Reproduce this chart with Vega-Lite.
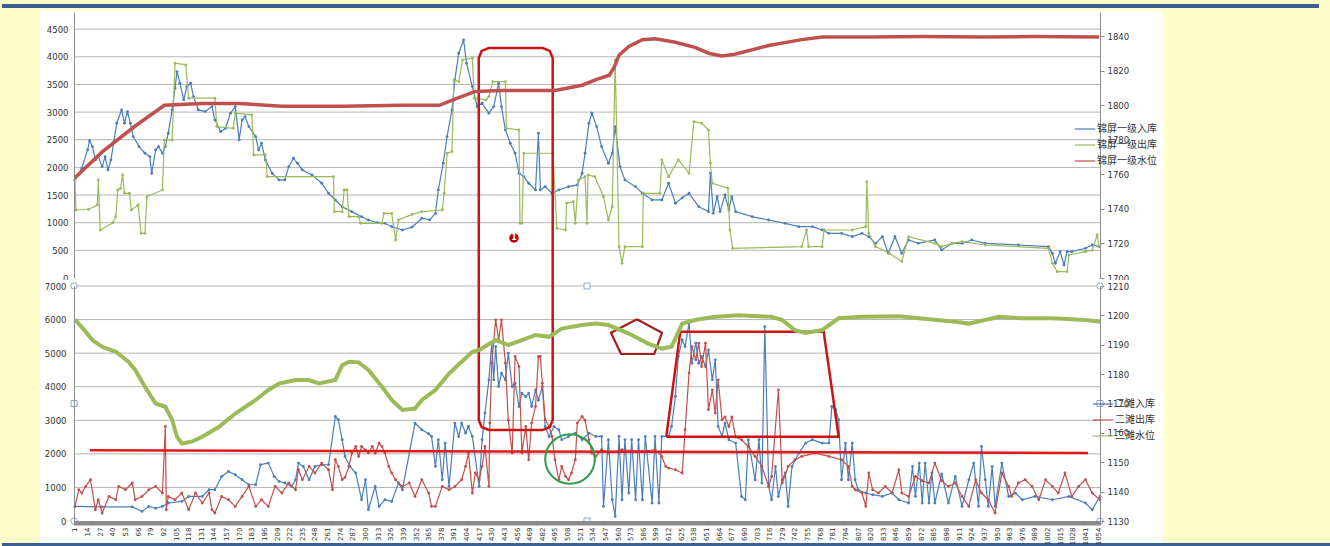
{
"$schema": "https://vega.github.io/schema/vega-lite/v6.json",
"background": "#FFFFCC",
"padding": {"left": 0, "top": 4, "right": 0, "bottom": 0},
"autosize": {"type": "pad"},
"bounds": "flush",
"spacing": 8,
"config": {
  "view": {"stroke": null},
  "axis": {"labelFont": "DejaVu Sans", "labelFontSize": 8.5, "labelColor": "#333333", "domainColor": "#8C8C8C", "tickColor": "#8C8C8C", "zindex": 1, "grid": false, "title": null}
},
"resolve": {"scale": {"x": "independent", "y": "independent", "color": "independent"}, "legend": {"color": "independent"}},
"datasets": {
  "nav_t": [{"i": -74.1, "i2": 1281.4, "v": 4918}],
  "bg_t": [{"i": -35, "i2": 1120.8, "v": 4830, "v2": -36}],
  "grid_t": [{"v": 500, "i": 0, "i2": 1056}, {"v": 1000, "i": 0, "i2": 1056}, {"v": 1500, "i": 0, "i2": 1056}, {"v": 2000, "i": 0, "i2": 1056}, {"v": 2500, "i": 0, "i2": 1056}, {"v": 3000, "i": 0, "i2": 1056}, {"v": 3500, "i": 0, "i2": 1056}, {"v": 4000, "i": 0, "i2": 1056}, {"v": 4500, "i": 0, "i2": 1056}],
  "rr_t": [{"o":1,"i":416.6,"v":-36},{"o":2,"i":416.6,"v":3978},{"o":3,"i":419.6,"v":4106},{"o":4,"i":426.9,"v":4159},{"o":5,"i":482.4,"v":4159},{"o":6,"i":489.7,"v":4106},{"o":7,"i":492.7,"v":3978},{"o":8,"i":492.7,"v":-36}],
  "badge": [{"i": 452.8, "v": 723}],
  "top_lvl": [{"i":1,"v":1758},{"i":29,"v":1773},{"i":63,"v":1788},{"i":93,"v":1800},{"i":132,"v":1801},{"i":170,"v":1801},{"i":214,"v":1799.5},{"i":276,"v":1799.5},{"i":338,"v":1800},{"i":376,"v":1800},{"i":394,"v":1804},{"i":413,"v":1808},{"i":440,"v":1808.5},{"i":495,"v":1808.5},{"i":523,"v":1811.6},{"i":538,"v":1815},{"i":551,"v":1817.4},{"i":556,"v":1822},{"i":561,"v":1829},{"i":571,"v":1834},{"i":585,"v":1838},{"i":598,"v":1838.5},{"i":619,"v":1836.5},{"i":639,"v":1833.5},{"i":654,"v":1830},{"i":667,"v":1828.5},{"i":680,"v":1829.5},{"i":715,"v":1834.6},{"i":749,"v":1838},{"i":770,"v":1839.5},{"i":821,"v":1839.5},{"i":873,"v":1839.8},{"i":935,"v":1839.5},{"i":986,"v":1839.8},{"i":1055,"v":1839.5}],
  "top_in": [{"i":1,"v":1773},{"i":8,"v":1985},{"i":14,"v":2316},{"i":16,"v":2484},{"i":19,"v":2376},{"i":22,"v":2135},{"i":25,"v":2195},{"i":29,"v":2014},{"i":32,"v":2195},{"i":35,"v":1954},{"i":38,"v":2135},{"i":41,"v":2466},{"i":44,"v":2799},{"i":49,"v":3040},{"i":52,"v":2799},{"i":55,"v":3010},{"i":58,"v":2799},{"i":61,"v":2557},{"i":67,"v":2376},{"i":73,"v":2256},{"i":78,"v":2195},{"i":80,"v":1894},{"i":84,"v":2316},{"i":87,"v":2376},{"i":91,"v":2256},{"i":94,"v":2376},{"i":97,"v":2618},{"i":101,"v":3040},{"i":104,"v":3432},{"i":106,"v":3733},{"i":109,"v":3522},{"i":113,"v":3221},{"i":116,"v":3461},{"i":120,"v":3522},{"i":123,"v":3280},{"i":128,"v":3040},{"i":135,"v":3010},{"i":142,"v":3100},{"i":145,"v":2859},{"i":151,"v":2647},{"i":156,"v":2708},{"i":161,"v":2980},{"i":166,"v":3100},{"i":170,"v":2497},{"i":173,"v":2859},{"i":176,"v":2918},{"i":180,"v":2738},{"i":187,"v":2557},{"i":190,"v":2316},{"i":193,"v":2437},{"i":197,"v":2135},{"i":204,"v":1894},{"i":211,"v":1773},{"i":217,"v":1773},{"i":221,"v":2014},{"i":226,"v":2166},{"i":230,"v":2075},{"i":235,"v":1954},{"i":245,"v":1864},{"i":255,"v":1713},{"i":262,"v":1532},{"i":269,"v":1411},{"i":276,"v":1290},{"i":286,"v":1200},{"i":296,"v":1109},{"i":303,"v":1049},{"i":312,"v":1000},{"i":320,"v":989},{"i":327,"v":928},{"i":338,"v":868},{"i":348,"v":920},{"i":358,"v":1080},{"i":366,"v":1050},{"i":372,"v":1170},{"i":375,"v":1592},{"i":380,"v":2075},{"i":384,"v":2557},{"i":389,"v":3040},{"i":392,"v":3582},{"i":396,"v":4065},{"i":401,"v":4306},{"i":404,"v":3884},{"i":410,"v":3461},{"i":415,"v":3100},{"i":420,"v":3160},{"i":427,"v":2980},{"i":432,"v":3100},{"i":437,"v":3522},{"i":440,"v":3100},{"i":444,"v":2678},{"i":449,"v":2437},{"i":454,"v":2256},{"i":458,"v":1894},{"i":463,"v":1833},{"i":468,"v":1713},{"i":475,"v":1592},{"i":478,"v":2618},{"i":480,"v":1592},{"i":485,"v":1652},{"i":492,"v":1532},{"i":499,"v":1592},{"i":509,"v":1652},{"i":518,"v":1683},{"i":523,"v":1894},{"i":526,"v":2256},{"i":530,"v":2799},{"i":533,"v":2980},{"i":538,"v":2738},{"i":543,"v":2376},{"i":550,"v":2075},{"i":554,"v":2256},{"i":557,"v":2738},{"i":562,"v":2014},{"i":567,"v":1773},{"i":578,"v":1652},{"i":585,"v":1532},{"i":595,"v":1411},{"i":605,"v":1411},{"i":612,"v":1713},{"i":619,"v":1351},{"i":626,"v":1450},{"i":633,"v":1532},{"i":643,"v":1290},{"i":653,"v":1200},{"i":655,"v":1894},{"i":658,"v":1170},{"i":662,"v":1471},{"i":665,"v":1200},{"i":670,"v":1501},{"i":674,"v":1230},{"i":677,"v":1471},{"i":681,"v":1200},{"i":698,"v":1109},{"i":715,"v":1049},{"i":732,"v":989},{"i":746,"v":928},{"i":760,"v":928},{"i":770,"v":868},{"i":777,"v":808},{"i":790,"v":808},{"i":801,"v":747},{"i":811,"v":808},{"i":818,"v":747},{"i":825,"v":627},{"i":832,"v":747},{"i":838,"v":446},{"i":845,"v":747},{"i":852,"v":446},{"i":859,"v":687},{"i":869,"v":627},{"i":886,"v":687},{"i":893,"v":507},{"i":904,"v":627},{"i":914,"v":627},{"i":924,"v":687},{"i":938,"v":627},{"i":972,"v":597},{"i":1003,"v":567},{"i":1007,"v":446},{"i":1010,"v":265},{"i":1015,"v":476},{"i":1019,"v":235},{"i":1022,"v":476},{"i":1027,"v":476},{"i":1041,"v":537},{"i":1048,"v":597},{"i":1055,"v":567}],
  "top_out": [{"i":1,"v":1773},{"i":2,"v":1230},{"i":15,"v":1243},{"i":24,"v":1320},{"i":25,"v":1773},{"i":27,"v":868},{"i":40,"v":1000},{"i":43,"v":1109},{"i":45,"v":1592},{"i":48,"v":1620},{"i":50,"v":1864},{"i":52,"v":1532},{"i":57,"v":1532},{"i":59,"v":1230},{"i":66,"v":1320},{"i":69,"v":808},{"i":73,"v":808},{"i":75,"v":1471},{"i":91,"v":1592},{"i":93,"v":2497},{"i":101,"v":2497},{"i":104,"v":3884},{"i":115,"v":3854},{"i":118,"v":3251},{"i":145,"v":3251},{"i":147,"v":2738},{"i":164,"v":2708},{"i":166,"v":2980},{"i":183,"v":2949},{"i":185,"v":2225},{"i":197,"v":2225},{"i":199,"v":1833},{"i":267,"v":1833},{"i":268,"v":1200},{"i":276,"v":1200},{"i":278,"v":1592},{"i":281,"v":1592},{"i":283,"v":1109},{"i":293,"v":1109},{"i":295,"v":989},{"i":317,"v":989},{"i":319,"v":1170},{"i":327,"v":1170},{"i":331,"v":687},{"i":334,"v":1049},{"i":348,"v":1150},{"i":358,"v":1200},{"i":379,"v":1230},{"i":381,"v":1532},{"i":384,"v":2256},{"i":389,"v":2286},{"i":391,"v":3582},{"i":396,"v":3552},{"i":400,"v":3944},{"i":410,"v":3974},{"i":412,"v":3251},{"i":424,"v":3221},{"i":427,"v":3280},{"i":431,"v":3552},{"i":444,"v":3552},{"i":445,"v":2708},{"i":458,"v":2678},{"i":459,"v":989},{"i":461,"v":989},{"i":463,"v":2256},{"i":493,"v":2256},{"i":497,"v":898},{"i":506,"v":868},{"i":507,"v":1351},{"i":514,"v":1381},{"i":516,"v":989},{"i":519,"v":1773},{"i":526,"v":1833},{"i":528,"v":989},{"i":529,"v":1864},{"i":536,"v":1833},{"i":545,"v":1471},{"i":550,"v":1049},{"i":554,"v":1290},{"i":557,"v":3944},{"i":561,"v":567},{"i":564,"v":265},{"i":567,"v":567},{"i":585,"v":567},{"i":586,"v":1532},{"i":603,"v":1532},{"i":605,"v":2135},{"i":612,"v":1833},{"i":622,"v":2135},{"i":633,"v":1894},{"i":638,"v":2829},{"i":646,"v":2799},{"i":653,"v":2678},{"i":655,"v":2075},{"i":657,"v":1713},{"i":673,"v":1622},{"i":675,"v":868},{"i":678,"v":537},{"i":749,"v":567},{"i":754,"v":868},{"i":756,"v":567},{"i":770,"v":567},{"i":772,"v":868},{"i":801,"v":868},{"i":815,"v":928},{"i":816,"v":1743},{"i":818,"v":808},{"i":825,"v":567},{"i":839,"v":446},{"i":852,"v":300},{"i":859,"v":747},{"i":886,"v":627},{"i":893,"v":567},{"i":904,"v":627},{"i":914,"v":657},{"i":938,"v":597},{"i":1003,"v":537},{"i":1007,"v":265},{"i":1012,"v":114},{"i":1022,"v":114},{"i":1024,"v":416},{"i":1041,"v":476},{"i":1048,"v":500},{"i":1053,"v":778},{"i":1055,"v":567}],
  "nav_b": [{"i": -74.1, "i2": 1294.8, "v": -700}],
  "bg_b": [{"i": -35, "i2": 1120.8, "v": 7180, "v2": -745}],
  "grid_b": [{"v": 1000, "i": 0, "i2": 1056}, {"v": 2000, "i": 0, "i2": 1056}, {"v": 3000, "i": 0, "i2": 1056}, {"v": 4000, "i": 0, "i2": 1056}, {"v": 5000, "i": 0, "i2": 1056}, {"v": 6000, "i": 0, "i2": 1056}, {"v": 7000, "i": 0, "i2": 1056}],
  "rr_b": [{"o":1,"i":416.6,"v":7180},{"o":2,"i":416.6,"v":3009},{"o":3,"i":419.6,"v":2798},{"o":4,"i":426.9,"v":2711},{"o":5,"i":482.4,"v":2711},{"o":6,"i":489.7,"v":2798},{"o":7,"i":492.7,"v":3009},{"o":8,"i":492.7,"v":7180}],
  "pent": [{"o":1,"i":579.4,"v":6008},{"o":2,"i":605.2,"v":5609},{"o":3,"i":597.2,"v":4974},{"o":4,"i":563,"v":4974},{"o":5,"i":552.7,"v":5609},{"o":6,"i":579.4,"v":6008}],
  "trap": [{"o":1,"i":609.6,"v":2511},{"o":2,"i":624,"v":5639},{"o":3,"i":771.6,"v":5639},{"o":4,"i":787,"v":2511},{"o":5,"i":609.6,"v":2511}],
  "hline": [{"i":16.5,"v":2106},{"i":1043.6,"v":2026}],
  "circ": [{"i":510.5,"v":1847}],
  "hc": [{"i":0,"v":0},{"i":0,"v":7000},{"i":1056,"v":0},{"i":1056,"v":7000}],
  "hs": [{"i":0,"v":3500},{"i":1056,"v":3500},{"i":528,"v":0},{"i":528,"v":7000}],
  "bot_lvl": [{"i":1,"v":1198.6},{"i":8,"v":1196},{"i":19,"v":1191.6},{"i":29,"v":1189.3},{"i":43,"v":1187.6},{"i":56,"v":1184.2},{"i":63,"v":1181.4},{"i":73,"v":1175.7},{"i":84,"v":1170},{"i":94,"v":1168.9},{"i":101,"v":1164.4},{"i":106,"v":1158.7},{"i":111,"v":1156.4},{"i":121,"v":1157},{"i":132,"v":1158.7},{"i":149,"v":1162},{"i":166,"v":1166.6},{"i":187,"v":1171.2},{"i":200,"v":1174.6},{"i":211,"v":1176.8},{"i":228,"v":1178},{"i":242,"v":1178},{"i":252,"v":1176.8},{"i":269,"v":1178},{"i":276,"v":1183},{"i":283,"v":1184.2},{"i":293,"v":1184},{"i":303,"v":1181.4},{"i":317,"v":1175.7},{"i":327,"v":1171.2},{"i":338,"v":1167.8},{"i":351,"v":1168.3},{"i":358,"v":1171.2},{"i":372,"v":1174.6},{"i":386,"v":1180.2},{"i":399,"v":1184.2},{"i":410,"v":1187.6},{"i":417,"v":1188.2},{"i":434,"v":1191.6},{"i":447,"v":1189.9},{"i":461,"v":1191.6},{"i":475,"v":1193.3},{"i":489,"v":1192.7},{"i":502,"v":1195.5},{"i":523,"v":1196.7},{"i":537,"v":1197.2},{"i":550,"v":1196.7},{"i":571,"v":1193.8},{"i":591,"v":1190.4},{"i":605,"v":1188.7},{"i":615,"v":1189.3},{"i":626,"v":1197.2},{"i":639,"v":1198.4},{"i":660,"v":1199.5},{"i":684,"v":1200},{"i":718,"v":1199.5},{"i":729,"v":1198.4},{"i":742,"v":1195},{"i":753,"v":1194},{"i":770,"v":1195},{"i":787,"v":1199},{"i":811,"v":1199.5},{"i":849,"v":1199.7},{"i":883,"v":1198.6},{"i":907,"v":1197.8},{"i":921,"v":1197.2},{"i":952,"v":1199.5},{"i":976,"v":1199},{"i":1007,"v":1199},{"i":1041,"v":1198.4},{"i":1056,"v":1197.8}],
  "bot_in": [{"i":1,"v":435},{"i":29,"v":420},{"i":60,"v":420},{"i":70,"v":286},{"i":77,"v":435},{"i":84,"v":380},{"i":91,"v":435},{"i":97,"v":536},{"i":111,"v":583},{"i":118,"v":732},{"i":132,"v":732},{"i":139,"v":932},{"i":145,"v":932},{"i":152,"v":1327},{"i":159,"v":1476},{"i":166,"v":1378},{"i":173,"v":1229},{"i":180,"v":1080},{"i":187,"v":1080},{"i":192,"v":1676},{"i":200,"v":1726},{"i":206,"v":1327},{"i":211,"v":1178},{"i":217,"v":1131},{"i":224,"v":1030},{"i":228,"v":1229},{"i":231,"v":1726},{"i":236,"v":1625},{"i":242,"v":1229},{"i":248,"v":1626},{"i":255,"v":1676},{"i":262,"v":1676},{"i":269,"v":3113},{"i":272,"v":3015},{"i":276,"v":2420},{"i":279,"v":1923},{"i":284,"v":1625},{"i":290,"v":1429},{"i":296,"v":634},{"i":300,"v":1229},{"i":303,"v":336},{"i":310,"v":1030},{"i":314,"v":435},{"i":320,"v":634},{"i":327,"v":583},{"i":334,"v":1131},{"i":338,"v":932},{"i":351,"v":2917},{"i":358,"v":2717},{"i":365,"v":2600},{"i":368,"v":2518},{"i":372,"v":1625},{"i":375,"v":2420},{"i":379,"v":1229},{"i":382,"v":2321},{"i":386,"v":1030},{"i":392,"v":2917},{"i":396,"v":2518},{"i":399,"v":2917},{"i":403,"v":2619},{"i":406,"v":2815},{"i":410,"v":2518},{"i":417,"v":1030},{"i":420,"v":2420},{"i":423,"v":3214},{"i":427,"v":4205},{"i":430,"v":5298},{"i":432,"v":4205},{"i":434,"v":5196},{"i":437,"v":4006},{"i":440,"v":4405},{"i":444,"v":4205},{"i":447,"v":5000},{"i":451,"v":4006},{"i":454,"v":4105},{"i":458,"v":3411},{"i":461,"v":3810},{"i":465,"v":3700},{"i":468,"v":3810},{"i":471,"v":3411},{"i":475,"v":3908},{"i":478,"v":3600},{"i":482,"v":4006},{"i":485,"v":2815},{"i":489,"v":2518},{"i":494,"v":2815},{"i":499,"v":2717},{"i":502,"v":2420},{"i":509,"v":2518},{"i":516,"v":2619},{"i":523,"v":2420},{"i":530,"v":2619},{"i":537,"v":2518},{"i":543,"v":2518},{"i":545,"v":435},{"i":550,"v":2420},{"i":554,"v":634},{"i":557,"v":137},{"i":561,"v":2518},{"i":564,"v":634},{"i":567,"v":2420},{"i":571,"v":833},{"i":574,"v":2420},{"i":578,"v":634},{"i":581,"v":2420},{"i":585,"v":634},{"i":588,"v":2518},{"i":595,"v":536},{"i":598,"v":2518},{"i":602,"v":536},{"i":605,"v":2518},{"i":612,"v":2518},{"i":615,"v":2815},{"i":619,"v":3708},{"i":622,"v":4899},{"i":626,"v":5396},{"i":629,"v":5196},{"i":633,"v":5893},{"i":636,"v":4702},{"i":640,"v":5298},{"i":643,"v":4702},{"i":646,"v":4899},{"i":650,"v":4601},{"i":653,"v":5098},{"i":657,"v":4205},{"i":660,"v":4800},{"i":663,"v":2815},{"i":667,"v":2518},{"i":670,"v":2917},{"i":674,"v":2420},{"i":681,"v":2321},{"i":687,"v":732},{"i":691,"v":634},{"i":694,"v":2420},{"i":701,"v":1229},{"i":705,"v":2420},{"i":708,"v":1131},{"i":711,"v":5792},{"i":715,"v":1030},{"i":718,"v":634},{"i":722,"v":1625},{"i":725,"v":732},{"i":729,"v":1229},{"i":732,"v":1429},{"i":735,"v":435},{"i":739,"v":1625},{"i":746,"v":2023},{"i":753,"v":2321},{"i":760,"v":2420},{"i":770,"v":2321},{"i":777,"v":2321},{"i":780,"v":3411},{"i":784,"v":3313},{"i":787,"v":3015},{"i":790,"v":1229},{"i":794,"v":2321},{"i":797,"v":1229},{"i":801,"v":2321},{"i":804,"v":1229},{"i":807,"v":932},{"i":815,"v":833},{"i":822,"v":783},{"i":832,"v":732},{"i":842,"v":833},{"i":849,"v":634},{"i":859,"v":536},{"i":863,"v":1625},{"i":866,"v":732},{"i":870,"v":1726},{"i":873,"v":536},{"i":876,"v":1726},{"i":880,"v":536},{"i":883,"v":1429},{"i":886,"v":536},{"i":893,"v":1400},{"i":900,"v":536},{"i":907,"v":1327},{"i":914,"v":435},{"i":921,"v":1229},{"i":926,"v":1726},{"i":931,"v":435},{"i":934,"v":2220},{"i":938,"v":1230},{"i":941,"v":435},{"i":945,"v":1627},{"i":948,"v":435},{"i":955,"v":1726},{"i":962,"v":730},{"i":969,"v":830},{"i":976,"v":634},{"i":989,"v":732},{"i":1007,"v":634},{"i":1024,"v":730},{"i":1041,"v":536},{"i":1048,"v":336},{"i":1056,"v":732}],
  "bot_out": [{"i":1,"v":435},{"i":5,"v":932},{"i":8,"v":833},{"i":12,"v":1030},{"i":17,"v":1229},{"i":22,"v":336},{"i":25,"v":634},{"i":29,"v":238},{"i":36,"v":733},{"i":43,"v":634},{"i":46,"v":1030},{"i":53,"v":932},{"i":60,"v":1131},{"i":63,"v":634},{"i":70,"v":733},{"i":77,"v":932},{"i":84,"v":1030},{"i":91,"v":833},{"i":94,"v":2815},{"i":95,"v":336},{"i":97,"v":733},{"i":104,"v":634},{"i":111,"v":833},{"i":118,"v":336},{"i":125,"v":833},{"i":132,"v":536},{"i":139,"v":833},{"i":142,"v":336},{"i":145,"v":238},{"i":152,"v":733},{"i":159,"v":634},{"i":166,"v":435},{"i":173,"v":733},{"i":180,"v":1030},{"i":187,"v":435},{"i":193,"v":634},{"i":200,"v":435},{"i":207,"v":1030},{"i":214,"v":833},{"i":221,"v":1131},{"i":228,"v":932},{"i":231,"v":1527},{"i":235,"v":1229},{"i":242,"v":1625},{"i":248,"v":1429},{"i":255,"v":1726},{"i":262,"v":1527},{"i":266,"v":932},{"i":269,"v":1825},{"i":272,"v":1627},{"i":276,"v":1229},{"i":279,"v":1300},{"i":283,"v":1625},{"i":286,"v":2023},{"i":290,"v":2220},{"i":293,"v":1923},{"i":296,"v":2220},{"i":300,"v":2120},{"i":303,"v":2023},{"i":307,"v":2220},{"i":310,"v":2020},{"i":314,"v":2321},{"i":317,"v":2220},{"i":320,"v":2023},{"i":324,"v":1625},{"i":327,"v":1429},{"i":331,"v":1229},{"i":338,"v":1030},{"i":345,"v":1131},{"i":351,"v":732},{"i":358,"v":1229},{"i":365,"v":833},{"i":368,"v":435},{"i":372,"v":435},{"i":379,"v":1030},{"i":386,"v":932},{"i":392,"v":1030},{"i":399,"v":1229},{"i":403,"v":1625},{"i":406,"v":2023},{"i":410,"v":833},{"i":413,"v":1429},{"i":417,"v":1229},{"i":420,"v":1625},{"i":423,"v":2220},{"i":427,"v":1030},{"i":428,"v":2917},{"i":430,"v":4702},{"i":434,"v":5991},{"i":437,"v":5400},{"i":440,"v":5991},{"i":444,"v":4702},{"i":447,"v":3000},{"i":451,"v":2023},{"i":454,"v":4899},{"i":458,"v":4600},{"i":461,"v":2023},{"i":465,"v":2815},{"i":468,"v":1825},{"i":471,"v":2917},{"i":475,"v":3411},{"i":478,"v":4899},{"i":480,"v":4899},{"i":482,"v":4105},{"i":485,"v":3015},{"i":489,"v":2815},{"i":492,"v":2518},{"i":495,"v":1825},{"i":499,"v":1229},{"i":502,"v":1625},{"i":506,"v":1327},{"i":509,"v":1229},{"i":512,"v":1429},{"i":516,"v":1825},{"i":518,"v":2917},{"i":523,"v":3113},{"i":526,"v":3000},{"i":530,"v":2417},{"i":533,"v":2023},{"i":537,"v":1923},{"i":543,"v":2122},{"i":550,"v":2023},{"i":564,"v":2122},{"i":585,"v":2080},{"i":598,"v":2122},{"i":605,"v":1923},{"i":609,"v":1625},{"i":612,"v":1577},{"i":619,"v":1527},{"i":626,"v":1429},{"i":629,"v":2717},{"i":633,"v":4405},{"i":636,"v":5196},{"i":640,"v":4800},{"i":643,"v":5298},{"i":646,"v":4600},{"i":650,"v":5298},{"i":653,"v":3313},{"i":657,"v":3908},{"i":660,"v":3214},{"i":663,"v":4205},{"i":667,"v":3015},{"i":670,"v":3100},{"i":674,"v":2815},{"i":677,"v":3100},{"i":681,"v":2500},{"i":687,"v":2420},{"i":694,"v":2220},{"i":701,"v":1923},{"i":708,"v":1625},{"i":715,"v":1030},{"i":718,"v":1327},{"i":725,"v":3908},{"i":729,"v":1131},{"i":735,"v":1625},{"i":742,"v":1825},{"i":749,"v":1923},{"i":763,"v":2023},{"i":777,"v":1923},{"i":790,"v":1825},{"i":797,"v":1625},{"i":801,"v":1030},{"i":804,"v":932},{"i":811,"v":833},{"i":815,"v":435},{"i":818,"v":1429},{"i":822,"v":932},{"i":828,"v":833},{"i":835,"v":1030},{"i":842,"v":833},{"i":849,"v":1527},{"i":852,"v":833},{"i":859,"v":732},{"i":866,"v":1327},{"i":873,"v":1200},{"i":880,"v":1131},{"i":886,"v":1726},{"i":893,"v":1200},{"i":900,"v":1030},{"i":907,"v":1131},{"i":914,"v":732},{"i":921,"v":435},{"i":928,"v":1229},{"i":934,"v":833},{"i":941,"v":634},{"i":948,"v":238},{"i":955,"v":1429},{"i":962,"v":1030},{"i":965,"v":732},{"i":972,"v":1131},{"i":979,"v":1229},{"i":986,"v":1030},{"i":993,"v":634},{"i":1000,"v":1229},{"i":1007,"v":1030},{"i":1013,"v":833},{"i":1020,"v":1429},{"i":1027,"v":732},{"i":1034,"v":1030},{"i":1041,"v":1229},{"i":1048,"v":833},{"i":1056,"v":634}]
},
"vconcat": [
 {
  "width": 1026, "height": 266,
  "encoding": {"x": {"field": "i", "type": "quantitative", "scale": {"domain": [0, 1056], "nice": false, "zero": false}, "axis": null}},
  "layer": [
   {
    "encoding": {"y": {"field": "v", "type": "quantitative", "scale": {"domain": [0, 4810], "nice": false, "zero": false}, "axis": {"orient": "left", "values": [0,500,1000,1500,2000,2500,3000,3500,4000,4500], "format": "d", "tickSize": 0, "labelPadding": 6, "zindex": 1, "grid": false}}},
    "layer": [
     {"data": {"name": "nav_t"}, "mark": {"type": "rule", "stroke": "#3C5F91", "strokeWidth": 4, "clip": false}, "encoding": {"x2": {"field": "i2"}}},
     {"data": {"name": "bg_t"}, "mark": {"type": "rect", "fill": "#FFFFFF", "clip": false}, "encoding": {"x2": {"field": "i2"}, "y2": {"field": "v2"}}},
     {"data": {"name": "grid_t"}, "mark": {"type": "rule", "stroke": "#B4B4B4", "strokeWidth": 1}, "encoding": {"x2": {"field": "i2"}}},
     {"data": {"name": "top_in"}, "mark": {"type": "line", "strokeWidth": 1.2, "point": {"filled": true, "size": 8}}, "encoding": {"color": {"datum": "锦屏一级入库", "scale": {"domain": ["锦屏一级入库", "锦屏一级出库", "锦屏一级水位"], "range": ["#4A7EBB", "#9BBB59", "#C0504D"]}, "legend": {"orient": "none", "legendX": 1000, "legendY": 106, "title": null, "symbolType": "stroke", "symbolSize": 420, "symbolStrokeWidth": 1.2, "labelFont": "Noto Sans CJK SC", "labelFontSize": 10, "labelColor": "#333333", "rowPadding": 0, "padding": 0, "labelOffset": 1, "zindex": 1}}}},
     {"data": {"name": "top_out"}, "mark": {"type": "line", "strokeWidth": 1.2, "point": {"filled": true, "size": 8}}, "encoding": {"color": {"datum": "锦屏一级出库"}}},
     {"data": {"name": "rr_t"}, "mark": {"type": "line", "stroke": "#CC1414", "strokeWidth": 2.5, "clip": false}, "encoding": {"order": {"field": "o"}}},
     {"data": {"name": "badge"}, "mark": {"type": "point", "filled": true, "color": "#C00000", "size": 90, "opacity": 1}},
     {"data": {"name": "badge"}, "mark": {"type": "text", "text": "1", "color": "#FFFFFF", "fontSize": 8, "fontWeight": "bold", "font": "DejaVu Sans"}}
    ]
   },
   {
    "data": {"name": "top_lvl"},
    "mark": {"type": "line", "strokeWidth": 3.5},
    "encoding": {
      "y": {"field": "v", "type": "quantitative", "scale": {"domain": [1700, 1854], "nice": false, "zero": false}, "axis": {"orient": "right", "values": [1700,1720,1740,1760,1780,1800,1820,1840], "format": "d", "tickSize": 4, "labelPadding": 3, "zindex": 1, "grid": false}},
      "color": {"datum": "锦屏一级水位"}
    }
   }
  ],
  "resolve": {"scale": {"y": "independent"}}
 },
 {
  "width": 1026, "height": 235,
  "encoding": {"x": {"field": "i", "type": "quantitative", "scale": {"domain": [0, 1056], "nice": false, "zero": false}, "axis": {"orient": "bottom", "tickCount": 1056, "format": "d", "labelExpr": "datum.value % 13 == 1 ? datum.label : ''", "labelAngle": 270, "labelFontSize": 7, "labelOverlap": false, "labelFlush": false, "labelBound": false, "tickSize": 4, "labelPadding": 2, "zindex": 1, "grid": false}}},
  "layer": [
   {
    "encoding": {"y": {"field": "v", "type": "quantitative", "scale": {"domain": [0, 7000], "nice": false, "zero": false}, "axis": {"orient": "left", "values": [0,1000,2000,3000,4000,5000,6000,7000], "format": "d", "tickSize": 0, "labelPadding": 8, "zindex": 1, "grid": false}}},
    "layer": [
     {"data": {"name": "bg_b"}, "mark": {"type": "rect", "fill": "#FFFFFF", "clip": false}, "encoding": {"x2": {"field": "i2"}, "y2": {"field": "v2"}}},
     {"data": {"name": "nav_b"}, "mark": {"type": "rule", "stroke": "#3C5F91", "strokeWidth": 3, "clip": false}, "encoding": {"x2": {"field": "i2"}}},
     {"data": {"name": "grid_b"}, "mark": {"type": "rule", "stroke": "#B4B4B4", "strokeWidth": 1}, "encoding": {"x2": {"field": "i2"}}},
     {"data": {"name": "bot_in"}, "mark": {"type": "line", "strokeWidth": 1.2, "point": {"filled": true, "size": 8}}, "encoding": {"color": {"datum": "二滩入库", "scale": {"domain": ["二滩入库", "二滩出库", "二滩水位"], "range": ["#4A7EBB", "#C0504D", "#9BBB59"]}, "legend": {"orient": "none", "legendX": 1018, "legendY": 107, "title": null, "symbolType": "stroke", "symbolSize": 420, "symbolStrokeWidth": 1.2, "labelFont": "Noto Sans CJK SC", "labelFontSize": 10, "labelColor": "#333333", "rowPadding": 0, "padding": 0, "labelOffset": 1, "zindex": 1}}}},
     {"data": {"name": "bot_out"}, "mark": {"type": "line", "strokeWidth": 1.2, "point": {"filled": true, "size": 8}}, "encoding": {"color": {"datum": "二滩出库"}}},
     {"data": {"name": "rr_b"}, "mark": {"type": "line", "stroke": "#CC1414", "strokeWidth": 2.5, "clip": false}, "encoding": {"order": {"field": "o"}}},
     {"data": {"name": "pent"}, "mark": {"type": "line", "stroke": "#A01E1E", "strokeWidth": 2.2}, "encoding": {"order": {"field": "o"}}},
     {"data": {"name": "trap"}, "mark": {"type": "line", "stroke": "#CC1414", "strokeWidth": 2.5}, "encoding": {"order": {"field": "o"}}},
     {"data": {"name": "hline"}, "mark": {"type": "line", "stroke": "#E01A1A", "strokeWidth": 2.5}},
     {"data": {"name": "circ"}, "mark": {"type": "point", "shape": "circle", "size": 2460, "filled": false, "stroke": "#2E9E4A", "strokeWidth": 2, "opacity": 1}},
     {"data": {"name": "hc"}, "mark": {"type": "point", "shape": "circle", "size": 40, "filled": true, "fill": "#FFFFFF", "stroke": "#86A9CC", "strokeWidth": 1, "opacity": 1, "clip": false}},
     {"data": {"name": "hs"}, "mark": {"type": "point", "shape": "square", "size": 36, "filled": true, "fill": "#FFFFFF", "stroke": "#86A9CC", "strokeWidth": 1, "opacity": 1, "clip": false}}
    ]
   },
   {
    "data": {"name": "bot_lvl"},
    "mark": {"type": "line", "strokeWidth": 4},
    "encoding": {
      "y": {"field": "v", "type": "quantitative", "scale": {"domain": [1130, 1210], "nice": false, "zero": false}, "axis": {"orient": "right", "values": [1130,1140,1150,1160,1170,1180,1190,1200,1210], "format": "d", "tickSize": 4, "labelPadding": 3, "zindex": 1, "grid": false}},
      "color": {"datum": "二滩水位"}
    }
   }
  ],
  "resolve": {"scale": {"y": "independent"}}
 }
]
}
